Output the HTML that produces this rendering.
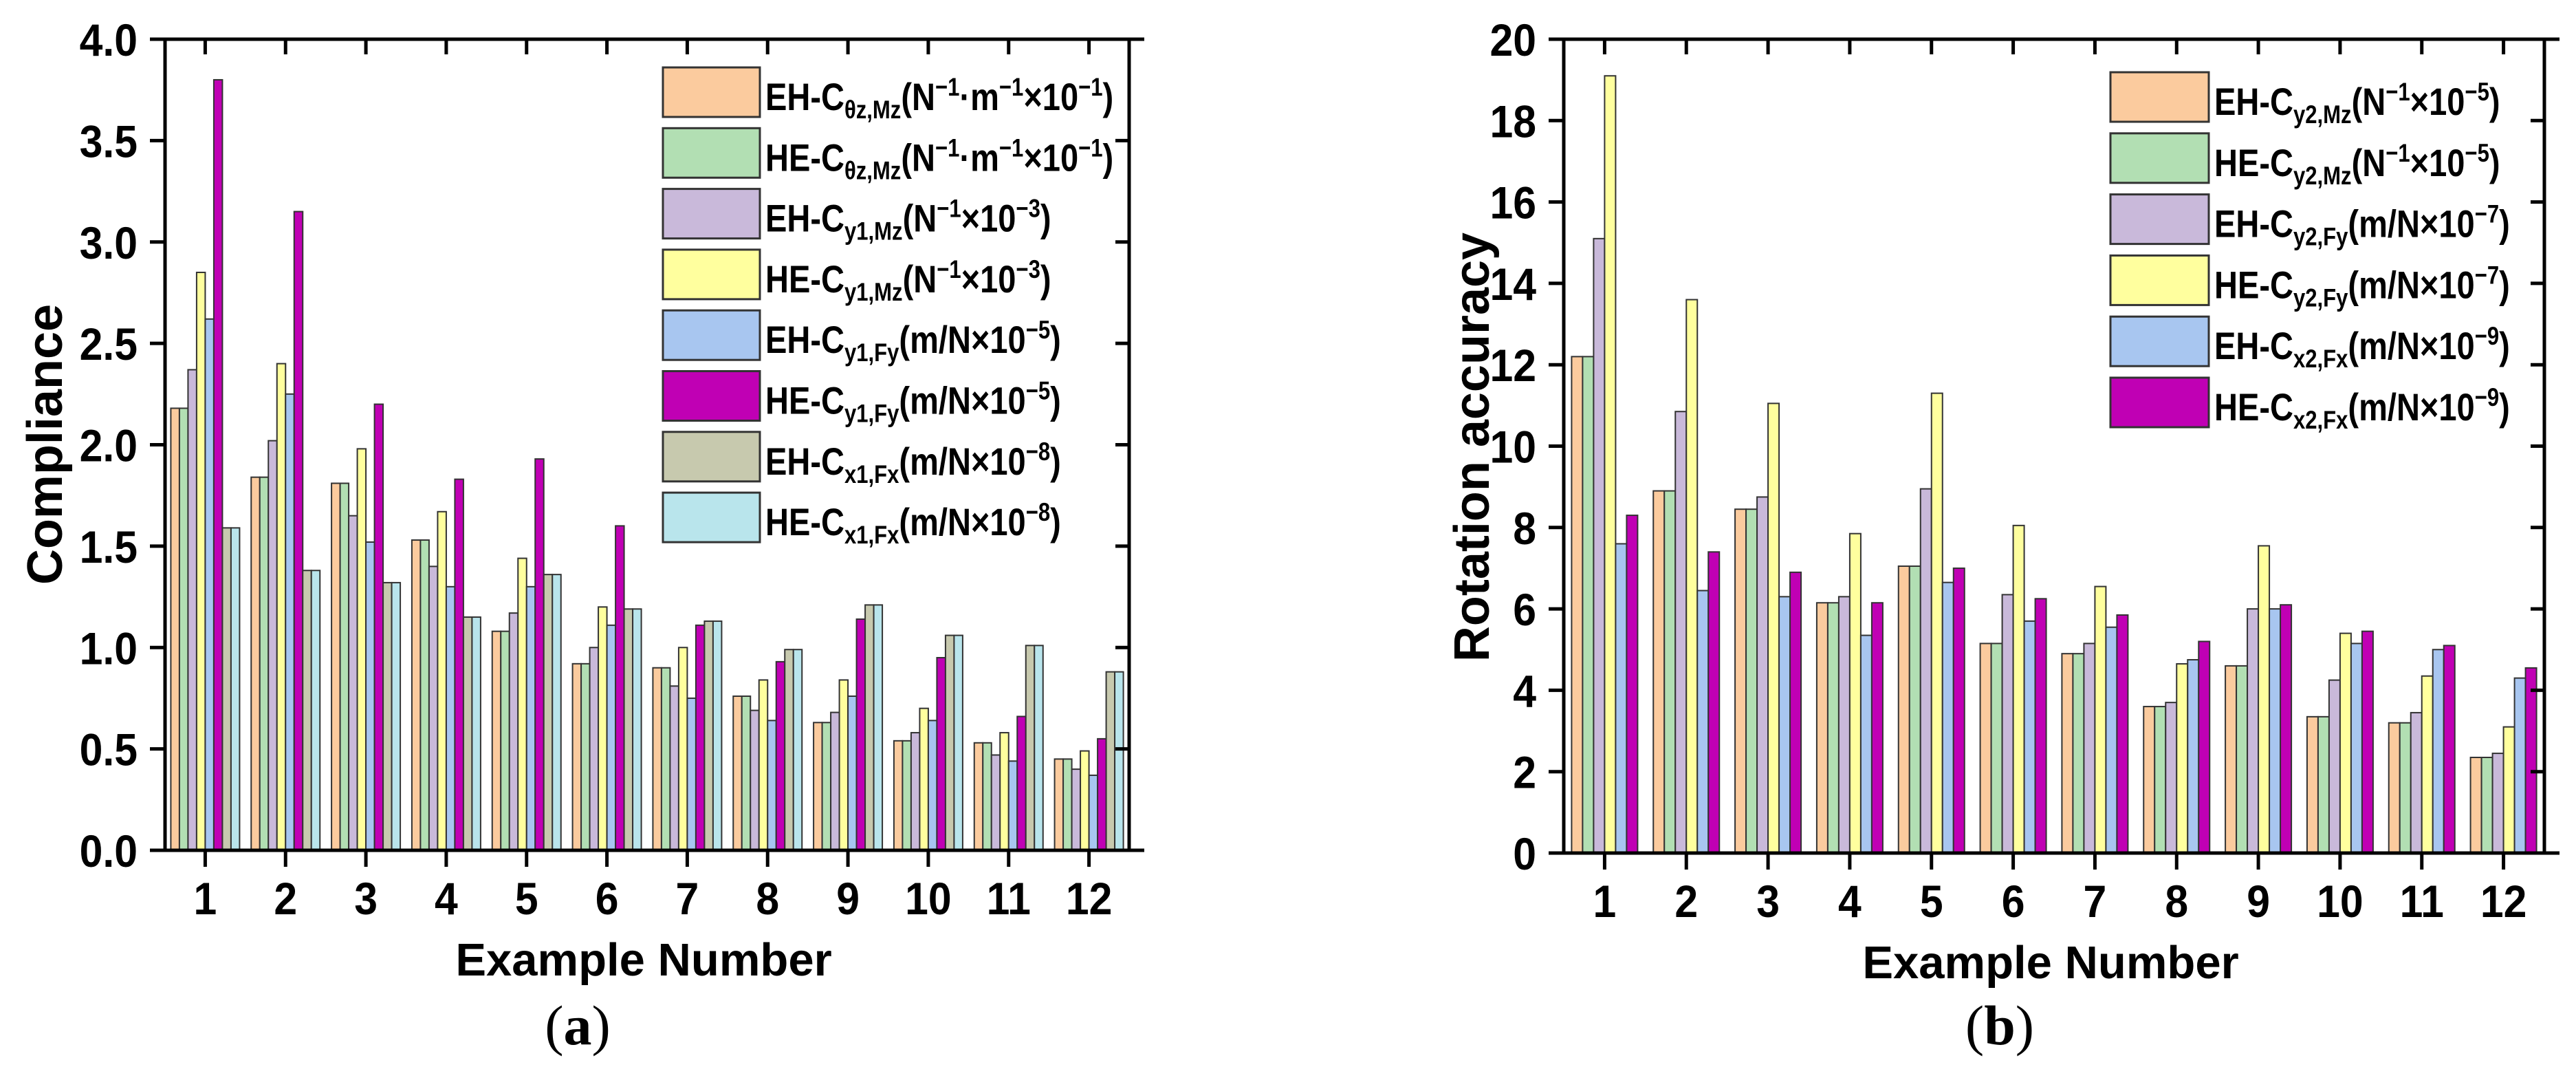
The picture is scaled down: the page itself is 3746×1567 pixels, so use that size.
<!DOCTYPE html>
<html><head><meta charset="utf-8"><style>
html,body{margin:0;padding:0;background:#fff;}
svg{display:block;font-family:"Liberation Sans",Arial,sans-serif;}
</style></head><body>
<svg id="fig" width="3746" height="1567" viewBox="0 0 3746 1567" xmlns="http://www.w3.org/2000/svg"></svg>
<script>
const categories = ['1','2','3','4','5','6','7','8','9','10','11','12'];
// Chart (a) series
const a_EH_thz = [2.18,1.84,1.81,1.53,1.08,0.92,0.90,0.76,0.63,0.54,0.53,0.45];
const a_HE_thz = [2.18,1.84,1.81,1.53,1.08,0.92,0.90,0.76,0.63,0.54,0.53,0.45];
const a_EH_y1Mz = [2.37,2.02,1.65,1.40,1.17,1.00,0.81,0.69,0.68,0.58,0.47,0.40];
const a_HE_y1Mz = [2.85,2.40,1.98,1.67,1.44,1.20,1.00,0.84,0.84,0.70,0.58,0.49];
const a_EH_y1Fy = [2.62,2.25,1.52,1.30,1.30,1.11,0.75,0.64,0.76,0.64,0.44,0.37];
const a_HE_y1Fy = [3.80,3.15,2.20,1.83,1.93,1.60,1.11,0.93,1.14,0.95,0.66,0.55];
const a_EH_x1Fx = [1.59,1.38,1.32,1.15,1.36,1.19,1.13,0.99,1.21,1.06,1.01,0.88];
const a_HE_x1Fx = [1.59,1.38,1.32,1.15,1.36,1.19,1.13,0.99,1.21,1.06,1.01,0.88];
const a_yTicks = ['0.0','0.5','1.0','1.5','2.0','2.5','3.0','3.5','4.0'];
// Chart (b) series
const b_EH_y2Mz = [12.2,8.9,8.45,6.15,7.05,5.15,4.9,3.6,4.6,3.35,3.2,2.35];
const b_HE_y2Mz = [12.2,8.9,8.45,6.15,7.05,5.15,4.9,3.6,4.6,3.35,3.2,2.35];
const b_EH_y2Fy = [15.1,10.85,8.75,6.3,8.95,6.35,5.15,3.7,6.0,4.25,3.45,2.45];
const b_HE_y2Fy = [19.1,13.6,11.05,7.85,11.3,8.05,6.55,4.65,7.55,5.4,4.35,3.1];
const b_EH_x2Fx = [7.6,6.45,6.3,5.35,6.65,5.7,5.55,4.75,6.0,5.15,5.0,4.3];
const b_HE_x2Fx = [8.3,7.4,6.9,6.15,7.0,6.25,5.85,5.2,6.1,5.45,5.1,4.55];
const b_yTicks = ['0','2','4','6','8','10','12','14','16','18','20'];

const NS='http://www.w3.org/2000/svg';
const svg=document.getElementById('fig');
function mk(tag,attrs,parent){const e=document.createElementNS(NS,tag);for(const k in attrs)e.setAttribute(k,attrs[k]);(parent||svg).appendChild(e);return e;}

const C={or:'#FBCB9E',gr:'#B2DFB3',pu:'#C9B9DA',ye:'#FFFF9E',bl:'#A8C6F0',ma:'#C000B4',ol:'#C7C9AE',cy:'#B9E5EC'};

function legendText(g,x,y,segs){
  const t=mk('text',{transform:`translate(${x},${y}) scale(0.84,1)`,'font-size':56,'font-weight':'bold',fill:'#000'},g);
  let shift=0;
  segs.forEach(s=>{
    const sp=mk('tspan',{},t);
    let target=0,size=56;
    if(s[1]==='sub'){target=12;size=37;}
    if(s[1]==='sup'){target=-21;size=37;}
    sp.setAttribute('dy',target-shift);
    sp.setAttribute('font-size',size);
    shift=target;
    sp.textContent=s[0];
  });
  return t;
}

function chart(cfg){
  const g=mk('g',{});
  
  
  const {L,R,T,B,ymax}=cfg;
  const n=categories.length;
  const cw=(R-L)/n;
  const xC=i=>L+(i+0.5)*cw;
  const yS=v=>B-(v/ymax)*(B-T);
  const ns=cfg.series.length;
  const bw=cfg.bw;
  cfg.series.forEach((s,si)=>{
    s.vals.forEach((v,i)=>{
      const x=xC(i)-ns*bw/2+si*bw;
      const r=mk('rect',{x:x,y:yS(v),width:bw,height:yS(0)-yS(v),fill:s.color,stroke:'#333','stroke-width':2},g);
      
      
    });
  });
  const ax=mk('g',{stroke:'#000','stroke-width':5,fill:'none'},g);
  
  
  mk('line',{x1:L-22,y1:B,x2:R+22,y2:B},ax);
  mk('line',{x1:L-22,y1:T,x2:R+22,y2:T},ax);
  mk('line',{x1:L,y1:T,x2:L,y2:B},ax);
  mk('line',{x1:R,y1:T,x2:R,y2:B},ax);
  cfg.yTicks.forEach(lbl=>{
    const v=parseFloat(lbl);const y=yS(v);
    mk('line',{x1:L-22,y1:y,x2:L,y2:y},ax);
    mk('line',{x1:R-20,y1:y,x2:R,y2:y},ax);
    const t=mk('text',{transform:`translate(${L-40},${y+24}) scale(0.92,1)`,'text-anchor':'end','font-size':66,'font-weight':'bold'},g);
    
    
    t.textContent=lbl;
  });
  categories.forEach((c,i)=>{
    const x=xC(i);
    mk('line',{x1:x,y1:B,x2:x,y2:B+24},ax);
    mk('line',{x1:x,y1:T,x2:x,y2:T+22},ax);
    const t=mk('text',{transform:`translate(${x},${B+93}) scale(0.92,1)`,'text-anchor':'middle','font-size':66,'font-weight':'bold'},g);
    
    
    t.textContent=c;
  });
  const xt=mk('text',{x:(L+R)/2-5,y:B+182,'text-anchor':'middle','font-size':67,'font-weight':'bold'},g);
  
  
  xt.textContent='Example Number';
  const yt=mk('text',{transform:`translate(${cfg.ytX},${cfg.ytY}) rotate(-90)`,'text-anchor':'middle','font-size':cfg.ytSize,'font-weight':'bold'},g);
  
  
  yt.textContent=cfg.ytitle;
  const cap=mk('text',{x:cfg.capX,y:1518,'text-anchor':'middle','font-size':82,'font-family':'"Liberation Serif",serif'},g);
  
  
  cap.appendChild(document.createTextNode('('));
  const bb=mk('tspan',{'font-weight':'bold'},cap);bb.textContent=cfg.cap;
  cap.appendChild(document.createTextNode(')'));
  const lg=mk('g',{},g);
  
  
  cfg.series.forEach((s,si)=>{
    const top=cfg.lgTop+si*cfg.lgPitch;
    const e=mk('g',{},lg);
    
    
    mk('rect',{x:cfg.lgX,y:top,width:cfg.lgW,height:72,fill:s.color,stroke:'#333','stroke-width':3},e);
    legendText(e,cfg.lgX+cfg.lgW+8,top+62,s.label);
  });
}

const thzUnit=[['(N'],['\u22121','sup'],['\u00b7m'],['\u22121','sup'],['\u00d710'],['\u22121','sup'],[')']];
chart({name:'chart-a-compliance',L:240,R:1642,T:57,B:1236,ymax:4,bw:12.5,yTicks:a_yTicks,
  ytitle:'Compliance',ytX:90,ytY:646,ytSize:72,capX:840,cap:'a',
  lgX:964,lgW:141,lgTop:98,lgPitch:88.3,
  series:[
   {key:'eh-thz-mz',color:C.or,vals:a_EH_thz,label:[['EH-C'],['\u03b8z,Mz','sub'],...thzUnit]},
   {key:'he-thz-mz',color:C.gr,vals:a_HE_thz,label:[['HE-C'],['\u03b8z,Mz','sub'],...thzUnit]},
   {key:'eh-y1-mz',color:C.pu,vals:a_EH_y1Mz,label:[['EH-C'],['y1,Mz','sub'],['(N'],['\u22121','sup'],['\u00d710'],['\u22123','sup'],[')']]},
   {key:'he-y1-mz',color:C.ye,vals:a_HE_y1Mz,label:[['HE-C'],['y1,Mz','sub'],['(N'],['\u22121','sup'],['\u00d710'],['\u22123','sup'],[')']]},
   {key:'eh-y1-fy',color:C.bl,vals:a_EH_y1Fy,label:[['EH-C'],['y1,Fy','sub'],['(m/N\u00d710'],['\u22125','sup'],[')']]},
   {key:'he-y1-fy',color:C.ma,vals:a_HE_y1Fy,label:[['HE-C'],['y1,Fy','sub'],['(m/N\u00d710'],['\u22125','sup'],[')']]},
   {key:'eh-x1-fx',color:C.ol,vals:a_EH_x1Fx,label:[['EH-C'],['x1,Fx','sub'],['(m/N\u00d710'],['\u22128','sup'],[')']]},
   {key:'he-x1-fx',color:C.cy,vals:a_HE_x1Fx,label:[['HE-C'],['x1,Fx','sub'],['(m/N\u00d710'],['\u22128','sup'],[')']]}
  ]});
chart({name:'chart-b-rotation-accuracy',L:2274,R:3700,T:57,B:1240,ymax:20,bw:16,yTicks:b_yTicks,
  ytitle:'Rotation accuracy',ytX:2165,ytY:650,ytSize:72,capX:2908,cap:'b',
  lgX:3069,lgW:143,lgTop:105,lgPitch:88.8,
  series:[
   {key:'eh-y2-mz',color:C.or,vals:b_EH_y2Mz,label:[['EH-C'],['y2,Mz','sub'],['(N'],['\u22121','sup'],['\u00d710'],['\u22125','sup'],[')']]},
   {key:'he-y2-mz',color:C.gr,vals:b_HE_y2Mz,label:[['HE-C'],['y2,Mz','sub'],['(N'],['\u22121','sup'],['\u00d710'],['\u22125','sup'],[')']]},
   {key:'eh-y2-fy',color:C.pu,vals:b_EH_y2Fy,label:[['EH-C'],['y2,Fy','sub'],['(m/N\u00d710'],['\u22127','sup'],[')']]},
   {key:'he-y2-fy',color:C.ye,vals:b_HE_y2Fy,label:[['HE-C'],['y2,Fy','sub'],['(m/N\u00d710'],['\u22127','sup'],[')']]},
   {key:'eh-x2-fx',color:C.bl,vals:b_EH_x2Fx,label:[['EH-C'],['x2,Fx','sub'],['(m/N\u00d710'],['\u22129','sup'],[')']]},
   {key:'he-x2-fx',color:C.ma,vals:b_HE_x2Fx,label:[['HE-C'],['x2,Fx','sub'],['(m/N\u00d710'],['\u22129','sup'],[')']]}
  ]});
</script>
</body></html>
